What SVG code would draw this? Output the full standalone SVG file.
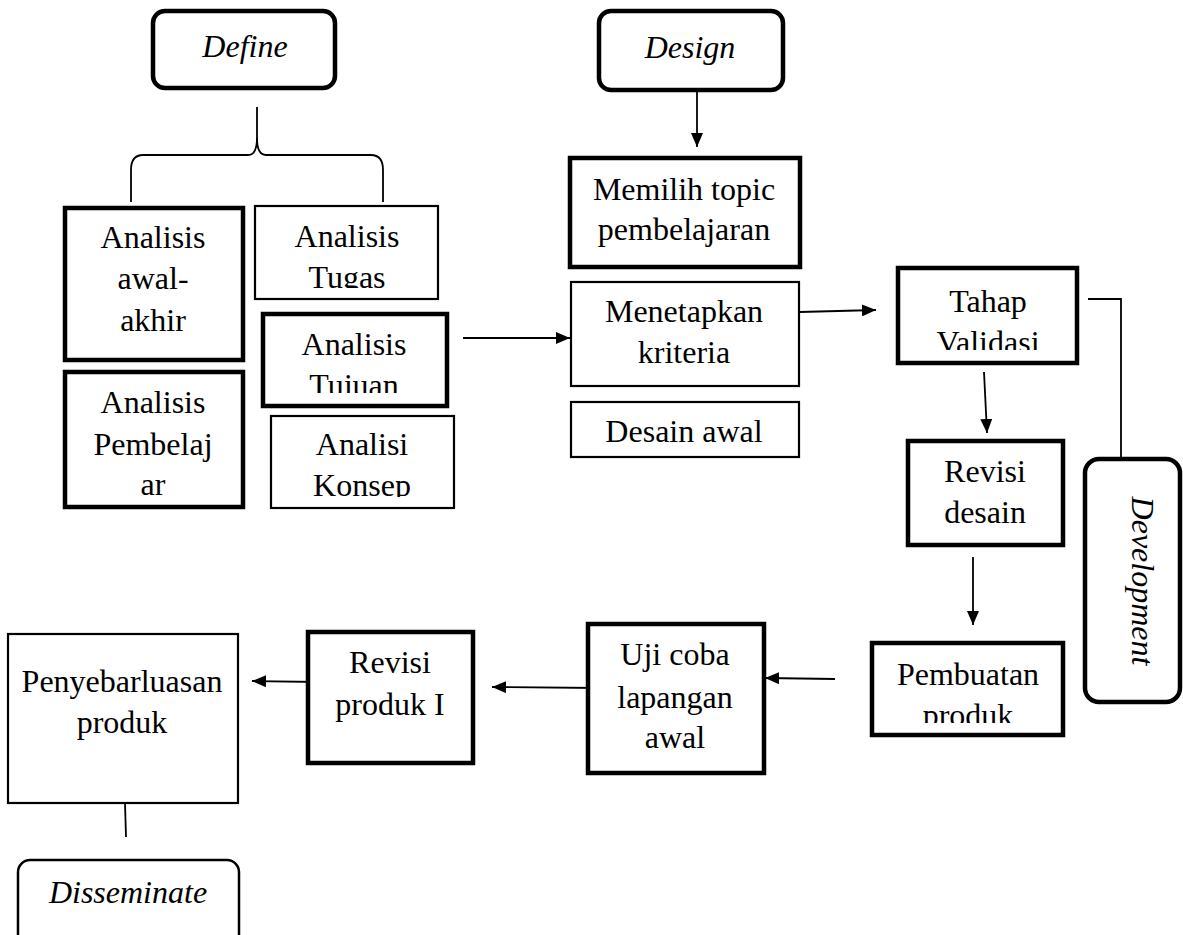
<svg xmlns="http://www.w3.org/2000/svg" width="1183" height="935" viewBox="0 0 1183 935">
<style>
text{font-family:"Liberation Serif","Times New Roman",serif;font-size:32px;fill:#000;text-anchor:middle}
.it{font-style:italic}
.thick{fill:#fff;stroke:#000;stroke-width:4.5}
.thin{fill:#fff;stroke:#000;stroke-width:2.2}
.ln{fill:none;stroke:#000;stroke-width:1.8}
</style>
<defs>
<marker id="ah" viewBox="0 0 14 12" refX="14" refY="6" markerWidth="14" markerHeight="12" markerUnits="userSpaceOnUse" orient="auto">
<path d="M0,0 L14,6 L0,12 Z" fill="#000"/>
</marker>
<clipPath id="cTugas"><rect x="255" y="206" width="183" height="82"/></clipPath>
<clipPath id="cTujuan"><rect x="262" y="313" width="185" height="80"/></clipPath>
<clipPath id="cKonsep"><rect x="271" y="416" width="183" height="81"/></clipPath>
<clipPath id="cVal"><rect x="898" y="267" width="179" height="83"/></clipPath>
<clipPath id="cPemb"><rect x="872" y="642" width="191" height="81"/></clipPath>
</defs>
<rect width="1183" height="935" fill="#fff"/>

<g id="connectors">
<path class="ln" d="M257,107 L257,138 Q257,155 248,155 L143,155 Q131,155 131,170 L131,202"/>
<path class="ln" d="M257,138 Q257,155 266,155 L371,155 Q383,155 383,170 L383,202"/>
<line class="ln" x1="697" y1="90" x2="697" y2="147" marker-end="url(#ah)"/>
<line class="ln" x1="463" y1="338" x2="570" y2="338" marker-end="url(#ah)"/>
<line class="ln" x1="800" y1="312" x2="876" y2="310" marker-end="url(#ah)"/>
<path class="ln" d="M1088,299 L1121,299 L1121,458"/>
<line class="ln" x1="984" y1="372" x2="987" y2="433" marker-end="url(#ah)"/>
<line class="ln" x1="973" y1="557" x2="973" y2="625" marker-end="url(#ah)"/>
<line class="ln" x1="835" y1="679" x2="765" y2="678" marker-end="url(#ah)"/>
<line class="ln" x1="599" y1="688" x2="492" y2="687" marker-end="url(#ah)"/>
<line class="ln" x1="320" y1="682" x2="252" y2="681" marker-end="url(#ah)"/>
<line class="ln" x1="125" y1="803" x2="126" y2="837"/>
</g>

<g id="define">
<rect class="thick" x="153" y="11" width="182" height="77" rx="12"/>
<text class="it" x="245" y="57">Define</text>
</g>
<g id="design">
<rect class="thick" x="599" y="11" width="184" height="79" rx="12"/>
<text class="it" x="690" y="58">Design</text>
</g>

<g id="analisis-awal-akhir">
<rect class="thick" x="65" y="208" width="178" height="152"/>
<text x="153" y="248">Analisis</text>
<text x="153" y="289">awal-</text>
<text x="153" y="331">akhir</text>
</g>
<g id="analisis-pembelajar">
<rect class="thick" x="65" y="372" width="178" height="135"/>
<text x="153" y="413">Analisis</text>
<text x="153" y="455">Pembelaj</text>
<text x="153" y="495">ar</text>
</g>
<g id="analisis-tugas">
<rect class="thin" x="255" y="206" width="183" height="93"/>
<g clip-path="url(#cTugas)">
<text x="347" y="247">Analisis</text>
<text x="347" y="288">Tugas</text>
</g>
</g>
<g id="analisis-tujuan">
<rect class="thick" x="263" y="314" width="184" height="92"/>
<g clip-path="url(#cTujuan)">
<text x="354" y="355">Analisis</text>
<text x="354" y="396">Tujuan</text>
</g>
</g>
<g id="analisi-konsep">
<rect class="thin" x="271" y="416" width="183" height="92"/>
<g clip-path="url(#cKonsep)">
<text x="362" y="455">Analisi</text>
<text x="362" y="496">Konsep</text>
</g>
</g>

<g id="memilih-topic">
<rect class="thick" x="570" y="158" width="230" height="109"/>
<text x="684" y="200">Memilih topic</text>
<text x="684" y="240">pembelajaran</text>
</g>
<g id="menetapkan-kriteria">
<rect class="thin" x="571" y="282" width="228" height="104"/>
<text x="684" y="322">Menetapkan</text>
<text x="684" y="363">kriteria</text>
</g>
<g id="desain-awal">
<rect class="thin" x="571" y="402" width="228" height="55"/>
<text x="684" y="442">Desain awal</text>
</g>

<g id="tahap-validasi">
<rect class="thick" x="898" y="268" width="179" height="95"/>
<g clip-path="url(#cVal)">
<text x="988" y="312">Tahap</text>
<text x="988" y="353">Validasi</text>
</g>
</g>
<g id="revisi-desain">
<rect class="thick" x="908" y="441" width="155" height="104"/>
<text x="985" y="482">Revisi</text>
<text x="985" y="523">desain</text>
</g>
<g id="development">
<rect class="thick" x="1085" y="459" width="95" height="243" rx="14"/>
<text class="it" transform="translate(1132,581) rotate(90)" x="0" y="0">Development</text>
</g>
<g id="pembuatan-produk">
<rect class="thick" x="872" y="643" width="191" height="92"/>
<g clip-path="url(#cPemb)">
<text x="968" y="685">Pembuatan</text>
<text x="968" y="726">produk</text>
</g>
</g>

<g id="uji-coba">
<rect class="thick" x="588" y="624" width="176" height="149"/>
<text x="675" y="665">Uji coba</text>
<text x="675" y="708">lapangan</text>
<text x="675" y="748">awal</text>
</g>
<g id="revisi-produk">
<rect class="thick" x="308" y="632" width="165" height="131"/>
<text x="390" y="673">Revisi</text>
<text x="390" y="715">produk I</text>
</g>
<g id="penyebarluasan">
<rect class="thin" x="8" y="634" width="230" height="169"/>
<text x="122" y="692">Penyebarluasan</text>
<text x="122" y="733">produk</text>
</g>
<g id="disseminate">
<rect class="thin" x="18" y="860" width="221" height="90" rx="12" style="stroke-width:2.5"/>
<text class="it" x="128" y="903">Disseminate</text>
</g>
</svg>
